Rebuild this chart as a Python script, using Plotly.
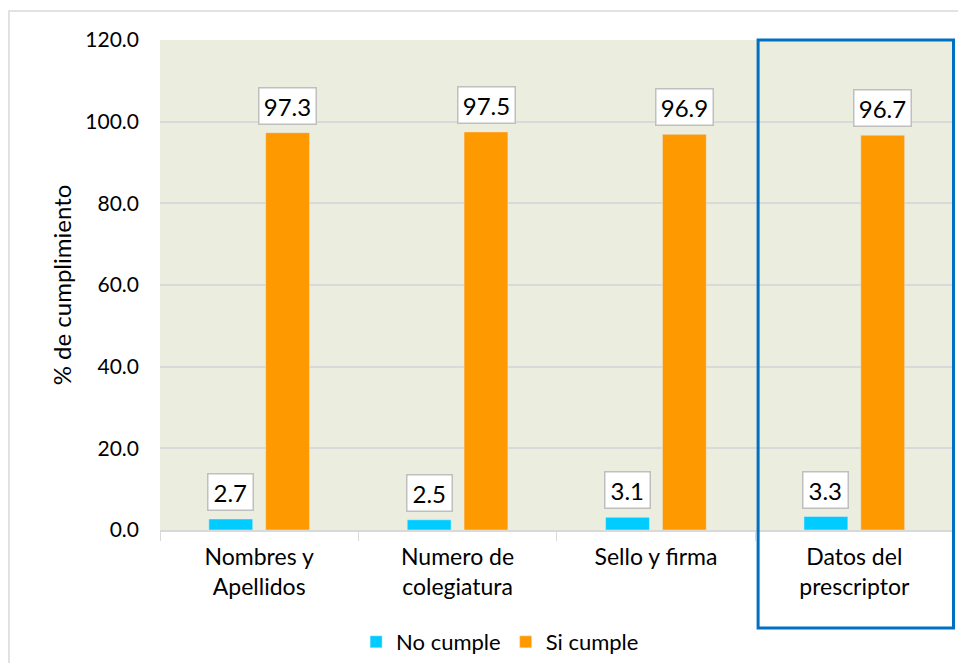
import plotly.graph_objects as go

categories = ["Nombres y<br>Apellidos", "Numero de<br>colegiatura", "Sello y firma", "Datos del<br>prescriptor"]
no_cumple = [2.7, 2.5, 3.1, 3.3]
si_cumple = [97.3, 97.5, 96.9, 96.7]
series_names = ["No cumple", "Si cumple"]
colors = ["#00CCFF", "#FF9900"]

FONT = "Lato, 'Open Sans', sans-serif"

fig = go.Figure()
fig.add_trace(go.Bar(x=categories, y=no_cumple, name=series_names[0], marker_color=colors[0]))
fig.add_trace(go.Bar(x=categories, y=si_cumple, name=series_names[1], marker_color=colors[1]))

for vals, shift in ((no_cumple, -28.5), (si_cumple, 28.5)):
    for c, v in zip(categories, vals):
        label = f"{v:.1f}"
        fig.add_annotation(x=c, y=v, xref="x", yref="y", text=label, showarrow=False,
                           xshift=shift, yanchor="bottom", yshift=8,
                           width=12.5 * len(label), height=29,
                           bgcolor="white", bordercolor="#BFBFBF", borderwidth=1.5, borderpad=3,
                           font=dict(family=FONT, size=24, color="black"))

# outer chart border
fig.add_shape(type="rect", xref="paper", yref="paper", x0=-0.19, x1=1.05, y0=-0.4, y1=1.059,
              line=dict(color="#D9D9D9", width=1.5), layer="below")
# highlight rectangle around last category
fig.add_shape(type="rect", xref="x", yref="paper", x0=2.515, x1=3.5, y0=-0.2, y1=1.0,
              line=dict(color="#0070C0", width=3))

fig.update_layout(
    width=950, height=655,
    margin=dict(l=152, r=3, t=32, b=133),
    paper_bgcolor="white", plot_bgcolor="#EBEEDF",
    barmode="group", bargap=0.427, bargroupgap=0.228,
    font=dict(family=FONT, size=18, color="black"),
    showlegend=True,
    legend=dict(orientation="h", xref="container", x=0.518, xanchor="center",
                yref="container", y=0.0, yanchor="bottom",
                font=dict(family=FONT, size=22), itemwidth=30, traceorder="normal"),
)
fig.update_xaxes(showline=True, linecolor="#D9D9D9", linewidth=1.5,
                 ticks="outside", tickson="boundaries", ticklen=9, tickcolor="#D9D9D9",
                 ticklabelstandoff=6,
                 tickfont=dict(family=FONT, size=23), showgrid=False)
fig.update_yaxes(range=[0, 120], dtick=20, tickformat=".1f", showgrid=True, gridcolor="#D9D9D9",
                 gridwidth=1.5, zeroline=False, showline=False, ticks="", ticklabelstandoff=20,
                 tickfont=dict(family=FONT, size=21),
                 title=dict(text="% de cumplimiento", font=dict(family=FONT, size=24), standoff=6))

fig.write_html("out.html")
